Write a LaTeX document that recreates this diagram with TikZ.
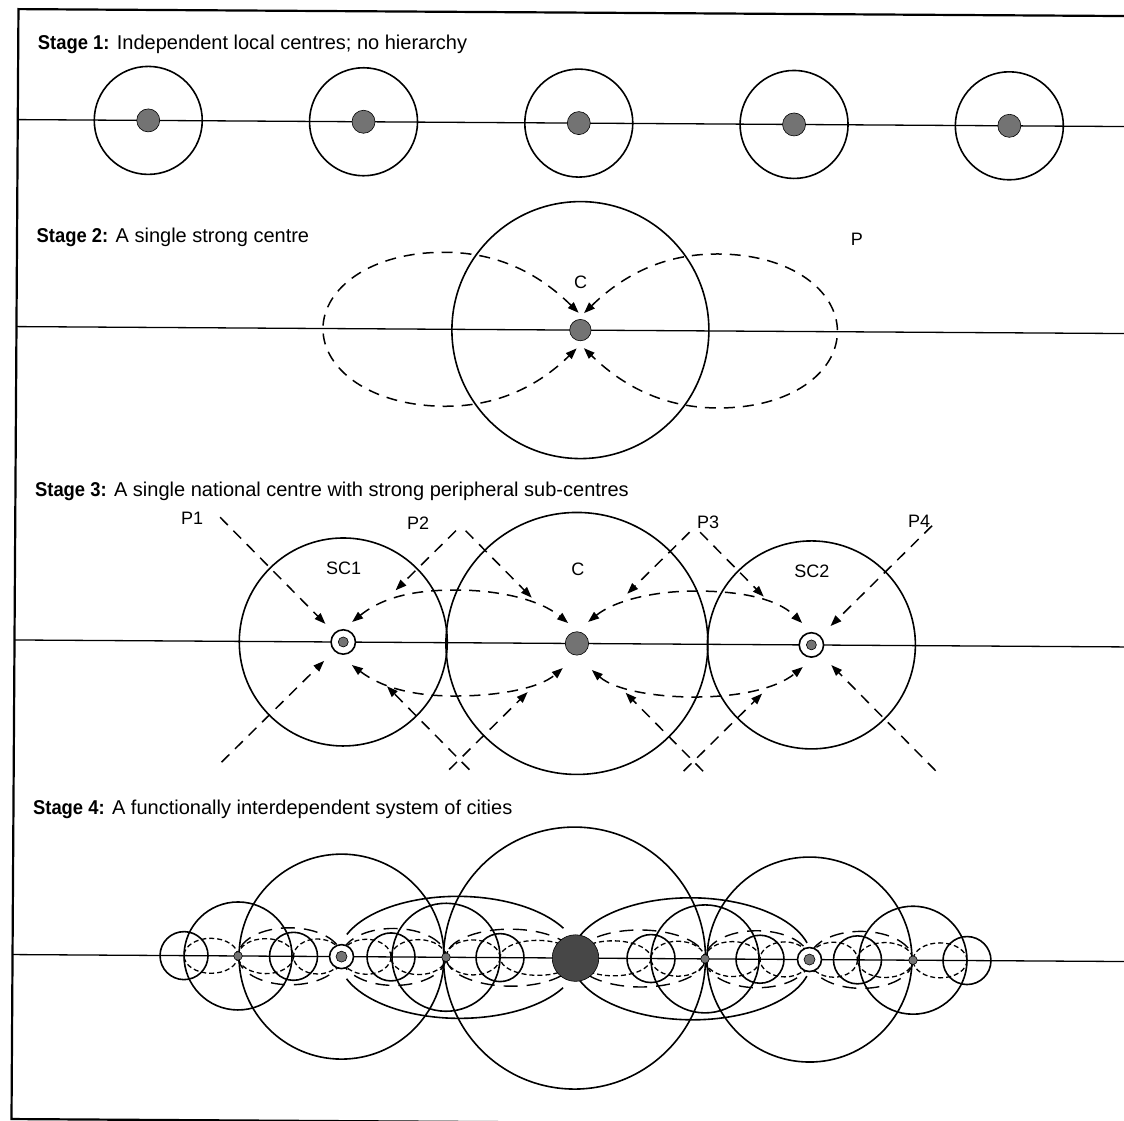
\documentclass[tikz,border=0pt]{standalone}
\usepackage{fontspec}
\setmainfont{Liberation Sans}
\newfontfamily\headbold{Liberation Sans}[FakeStretch=0.92]
\usetikzlibrary{arrows.meta,calc}

\tikzset{
  rim/.style={line width=1.6pt},
  spine/.style={line width=1.3pt},
  flow/.style={line width=1.5pt, dash pattern=on 11pt off 8pt},
  inflow/.style={-{Triangle[length=11pt,width=8pt]}},
  twoway/.style={{Triangle[length=11pt,width=8pt]}-{Triangle[length=11pt,width=8pt]}},
  minorflow/.style={line width=1.3pt, dash pattern=on 5pt off 3pt},
  midflow/.style={line width=1.4pt, dash pattern=on 14pt off 9pt},
  hub/.style={fill=black!55, draw=black, line width=0.6pt},
  bighub/.style={fill=black!72, draw=black, line width=0.6pt},
  ringmark/.style={fill=white, draw=black, line width=1.6pt},
  stagehead/.style={anchor=base west, inner sep=0pt, font=\fontsize{20}{24}\selectfont},
  lbl/.style={anchor=base, inner sep=0pt, font=\fontsize{18}{22}\selectfont},
}

\begin{document}
\begin{tikzpicture}[x=1pt,y=-1pt]
\useasboundingbox (0,0) rectangle (1124,1121);
\clip (0,0) rectangle (1124,1121);
\begin{scope}[rotate around={-0.36:(562,560)}]

% outer frame (open to the right)
\draw[line width=2.2pt] (1300,12.5) -- (15,12.5) -- (15,1122.5) -- (1300,1122.5);

% ---------------- Stage 1 ----------------
\node[stagehead] (h1) at (34.5,53) {{\headbold\bfseries Stage 1:} Independent local centres; no hierarchy};
\draw[spine] (15,123) -- (1300,123);
\foreach \i/\x in {1/145.5,2/360.8,3/576.1,4/791.4,5/1006.7}{
  \coordinate (a\i) at (\x,123);
  \draw[rim] (a\i) circle[radius=54];
  \draw[hub] (a\i) circle[radius=11.5];
}

% ---------------- Stage 2 ----------------
\node[stagehead] (h2) at (34.5,245.8) {{\headbold\bfseries Stage 2:} A single strong centre};
\draw[spine] (15,330) -- (1300,330);
\coordinate (c2) at (579,330);
\draw[rim] (c2) circle[radius=128.5];
\draw[flow,twoway] (577.1,312.7) .. controls (543.5,280) and (503.5,253) .. (443.5,253)
  .. controls (368.5,253) and (321.5,290) .. (321.5,330)
  .. controls (321.5,370) and (368.5,407) .. (443.5,407)
  .. controls (503.5,407) and (543.5,380) .. (575.3,348.3);
\draw[flow,twoway] (582.5,313) .. controls (616,280) and (656,253) .. (716,253)
  .. controls (791,253) and (836,290) .. (836,330)
  .. controls (836,370) and (791,407) .. (716,407)
  .. controls (656,407) and (616,380) .. (582.5,348);
\draw[hub] (c2) circle[radius=10.7];
\node[lbl] (c2lbl) at (579,288.5) {C};
\node[lbl] (p0lbl) at (855,243.5) {P};

% ---------------- Stage 3 ----------------
\node[stagehead] (h3) at (34.5,500) {{\headbold\bfseries Stage 3:} A single national centre with strong peripheral sub-centres};
\draw[spine] (15,643.4) -- (1300,643.4);
\coordinate (sc1) at (343.8,643.4);
\coordinate (c3) at (577.5,643.4);
\coordinate (sc2) at (812,643.4);
\draw[rim] (sc1) circle[radius=104];
\draw[rim] (c3) circle[radius=131];
\draw[rim] (sc2) circle[radius=104];

% straight inflows from the periphery
\foreach \c/\sx/\sy/\tin/\tout in {
  sc1/-1/-1/18/124, sc1/-1/1/19/121, sc1/1/-1/52/112, sc1/1/1/44/127,
  c3/-1/-1/45.5/112, c3/1/-1/50/112, c3/-1/1/49/127, c3/1/1/49/127,
  sc2/-1/-1/48/112, sc2/1/-1/19/120, sc2/-1/1/49/127, sc2/1/1/20/125}{
  \draw[flow,inflow] ($(\c)+(\sx*\tout,\sy*\tout)$) -- ($(\c)+(\sx*\tin,\sy*\tin)$);
}

% two-way flows between the centres
\draw[flow,twoway] (352.5,623.3) .. controls (385.5,596.1) and (420.5,590.9) .. (455.5,590.7)
  .. controls (500.5,590.4) and (540.5,600.1) .. (568.5,623);
\draw[flow,twoway] (352.5,666.3) .. controls (385.5,691.1) and (420.5,696.9) .. (455.5,696.7)
  .. controls (500.5,696.4) and (540.5,688.1) .. (563.5,668);
\draw[flow,twoway] (588.5,621.8) .. controls (615.5,599.7) and (655.5,590.4) .. (695.5,590.2)
  .. controls (735.5,589.9) and (775.5,595.6) .. (802.5,621.5);
\draw[flow,twoway] (592.5,669.8) .. controls (615.5,689.7) and (655.5,696.4) .. (695.5,696.2)
  .. controls (735.5,695.9) and (775.5,688.6) .. (803.5,665.5);

\draw[hub] (c3) circle[radius=11.7];
\draw[ringmark] (sc1) circle[radius=12.2];
\draw[hub] (sc1) circle[radius=5];
\draw[ringmark] (sc2) circle[radius=12.2];
\draw[hub] (sc2) circle[radius=5];

\node[lbl] (sc1lbl) at (343.8,575.5) {SC1};
\node[lbl] (c3lbl) at (578,575.5) {C};
\node[lbl] (sc2lbl) at (812,575.5) {SC2};
\node[lbl] (p1lbl) at (192,527) {P1};
\node[lbl] (p2lbl) at (418,530) {P2};
\node[lbl] (p3lbl) at (708,528) {P3};
\node[lbl] (p4lbl) at (919,525) {P4};

% ---------------- Stage 4 ----------------
\node[stagehead] (h4) at (34.5,818) {{\headbold\bfseries Stage 4:} A functionally interdependent system of cities};
\draw[spine] (15,958) -- (1300,958);

% smallest fields
\foreach \x in {186.5,296,393.5,502.5,653.5,762.5,860,969.5}
  \draw[rim] (\x,958) circle[radius=24];
% local centres
\foreach \x in {240.5,448.5,707.5,915.5}
  \draw[rim] (\x,958) circle[radius=54];
% sub-centres and national centre
\foreach \x in {344,812}
  \draw[rim] (\x,958) circle[radius=102.5];
\draw[rim] (577,958) circle[radius=131];

% solid links between the sub-centres and the national centre
\draw[rim] (461,958) ++(29.2:120 and 61) arc[start angle=29.2, end angle=158.7, x radius=120, y radius=61];
\draw[rim] (461,958) ++(201.3:120 and 61) arc[start angle=201.3, end angle=330.8, x radius=120, y radius=61];
\draw[rim] (694,958) ++(15.8:120 and 61) arc[start angle=15.8, end angle=158.3, x radius=120, y radius=61];
\draw[rim] (694,958) ++(201.7:120 and 61) arc[start angle=201.7, end angle=344.2, x radius=120, y radius=61];

% intermediate links
\foreach \a/\b in {240.5/344,344/448.5,448.5/578,578/707.5,707.5/812,812/915.5}
  \draw[midflow] ({(\a+\b)/2},958) ellipse[x radius={(\b-\a)/2}, y radius=28.5];
% local links
\foreach \a/\b in {186.5/240.5,240.5/296,296/344,344/393.5,393.5/448.5,448.5/502.5,502.5/578,
                   578/653.5,653.5/707.5,707.5/762.5,762.5/812,812/860,860/915.5,915.5/969.5}
  \draw[minorflow] ({(\a+\b)/2},958) ellipse[x radius={(\b-\a)/2}, y radius=17.5];

% centre markers
\foreach \x in {240.5,448.5,707.5,915.5}
  \draw[hub] (\x,958) circle[radius=4.3];
\foreach \x in {344,812}{
  \draw[ringmark] (\x,958) circle[radius=12];
  \draw[hub] (\x,958) circle[radius=5.5];
}
\draw[bighub] (578,958) circle[radius=23.3];

\end{scope}
\end{tikzpicture}
\end{document}
